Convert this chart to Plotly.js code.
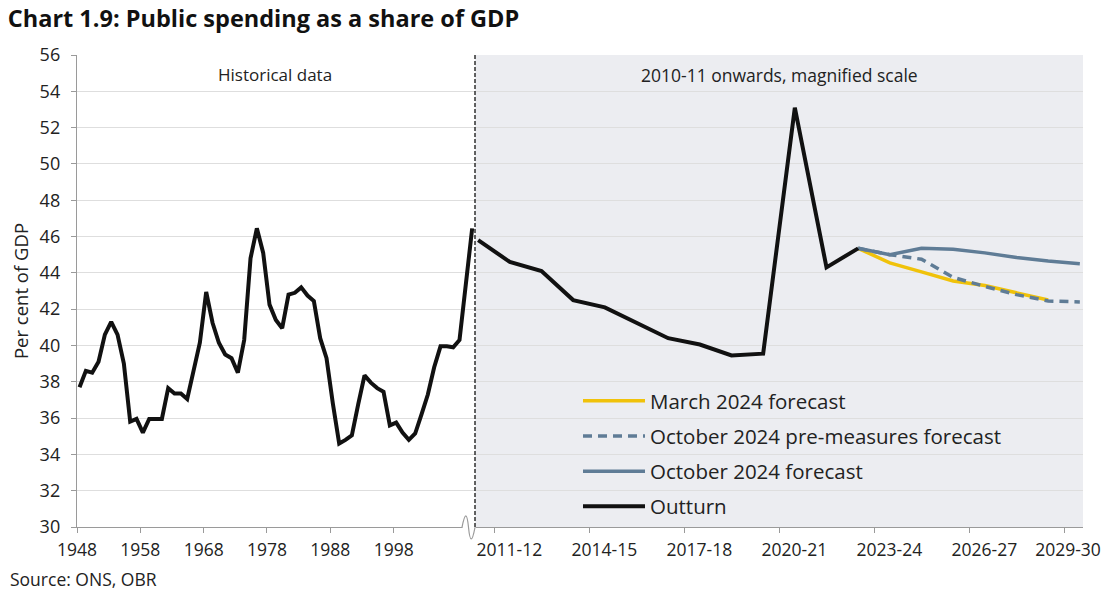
<!DOCTYPE html>
<html><head><meta charset="utf-8">
<script src="https://cdn.plot.ly/plotly-3.0.1.min.js"></script>
<style>html,body{margin:0;padding:0;background:#fff}#chart{width:1111px;height:596px}</style>
</head><body><div id="chart"></div>
<script>
// Historical series (calendar/fiscal year start), per cent of GDP
const histYears = [1948,1949,1950,1951,1952,1953,1954,1955,1956,1957,1958,1959,1960,1961,1962,1963,1964,1965,1966,1967,1968,1969,1970,1971,1972,1973,1974,1975,1976,1977,1978,1979,1980,1981,1982,1983,1984,1985,1986,1987,1988,1989,1990,1991,1992,1993,1994,1995,1996,1997,1998,1999,2000,2001,2002,2003,2004,2005,2006,2007,2008,2009,2010];
const histValues = [37.7,38.6,38.5,39.1,40.6,41.3,40.6,39.0,35.8,35.95,35.2,35.95,35.95,35.95,37.65,37.35,37.35,37.05,38.6,40.15,42.95,41.25,40.15,39.5,39.3,38.5,40.3,44.8,46.45,45.1,42.25,41.4,40.95,42.8,42.9,43.2,42.75,42.45,40.4,39.3,36.8,34.6,34.8,35.05,36.75,38.35,37.95,37.65,37.45,35.6,35.75,35.2,34.8,35.15,36.2,37.3,38.8,39.95,39.95,39.9,40.3,43.4,46.45];
const histTickLabels = ['1948','1958','1968','1978','1988','1998'];

// Magnified section: fiscal years
const fyLabels = ['2010-11','2011-12','2012-13','2013-14','2014-15','2015-16','2016-17','2017-18','2018-19','2019-20','2020-21','2021-22','2022-23','2023-24','2024-25','2025-26','2026-27','2027-28','2028-29','2029-30'];
const fyTickLabels = ['2011-12','2014-15','2017-18','2020-21','2023-24','2026-27','2029-30'];

const outturnYears = ['2010-11','2011-12','2012-13','2013-14','2014-15','2015-16','2016-17','2017-18','2018-19','2019-20','2020-21','2021-22','2022-23'];
const outturnValues = [45.8,44.6,44.1,42.5,42.1,41.25,40.4,40.05,39.45,39.55,53.1,44.3,45.35];

const march24Years = ['2022-23','2023-24','2024-25','2025-26','2026-27','2027-28','2028-29'];
const march24Values = [45.35,44.55,44.05,43.55,43.3,42.9,42.5];

const octPreYears = ['2022-23','2023-24','2024-25','2025-26','2026-27','2027-28','2028-29','2029-30'];
const octPreValues = [45.35,45.0,44.75,43.75,43.25,42.8,42.45,42.4];

const octYears = ['2022-23','2023-24','2024-25','2025-26','2026-27','2027-28','2028-29','2029-30'];
const octValues = [45.35,45.0,45.35,45.3,45.1,44.85,44.65,44.5];

const idx = arr => arr.map(l => fyLabels.indexOf(l));

const FONT = '"Open Sans", Lato, sans-serif';
const TXT = '#222';
const AX = '#9a9a9a';
const GRID = '#dedede';
const YELLOW = '#f0c20a';
const BLUEGREY = '#5f7c96';

// plot area geometry (pixels)
const L = 77, R = 28, T = 55, B = 69;
const W = 1111 - L - R, H = 596 - T - B;
const split = (475 - L) / W;
const px = p => (p - L) / W;
const py = p => (596 - B - p) / H;

// labels sit to the right of their tick (category centre); the last one is pulled inside the chart
const NB = '\u00a0';
const fyTickText = fyTickLabels.map((l, i) => i === fyTickLabels.length - 1 ? l : NB.repeat(5) + l);

const traces = [
  {x: idx(march24Years), y: march24Values, xaxis:'x2', yaxis:'y', mode:'lines', name:'March 2024 forecast',
   legendgroup:'g1', line:{color:YELLOW, width:3.5}},
  {x: idx(octPreYears), y: octPreValues, xaxis:'x2', yaxis:'y', mode:'lines', name:'October 2024 pre-measures forecast',
   legendgroup:'g2', line:{color:BLUEGREY, width:3.5, dash:'9px,6px'}},
  {x: idx(octYears), y: octValues, xaxis:'x2', yaxis:'y', mode:'lines', name:'October 2024 forecast',
   legendgroup:'g3', line:{color:BLUEGREY, width:3.5}},
  {x: histYears, y: histValues, xaxis:'x', yaxis:'y', mode:'lines', name:'Outturn', showlegend:false,
   legendgroup:'g4', line:{color:'#111', width:4}},
  {x: idx(outturnYears), y: outturnValues, xaxis:'x2', yaxis:'y', mode:'lines', name:'Outturn',
   legendgroup:'g4', line:{color:'#111', width:4}}
];

const layout = {
  width:1111, height:596,
  margin:{l:L, r:R, t:T, b:B},
  paper_bgcolor:'#fff', plot_bgcolor:'rgba(0,0,0,0)',
  font:{family:FONT, color:TXT, size:16},
  title:{text:'<b>Chart 1.9: Public spending as a share of GDP</b>', x:0.007, xanchor:'left',
         yref:'container', y:0.968, yanchor:'middle', font:{family:FONT, size:23.5, color:'#111'}},
  showlegend:true,
  legend:{x:px(578), y:py(381), xanchor:'left', yanchor:'top', bgcolor:'rgba(0,0,0,0)',
          font:{family:FONT, size:20.5, color:TXT}, itemwidth:62, tracegroupgap:5.5, traceorder:'grouped'},
  xaxis:{domain:[0, split], range:[1947.6, 1947.6 + (475 - L) / 6.333], anchor:'y',
         tickmode:'array', tickvals: histTickLabels.map(v => +v - 0.4), ticktext: histTickLabels,
         ticks:'outside', ticklen:5, tickcolor:AX, showline:true, linecolor:AX, linewidth:1.2,
         ticklabelstandoff:2,
         showgrid:false, zeroline:false, tickfont:{size:17.5, color:TXT}},
  xaxis2:{domain:[split, 1], range:[-0.1, 19.1], anchor:'y',
          tickmode:'array', tickvals: fyTickLabels.map(l => fyLabels.indexOf(l) - 0.5), ticktext: fyTickText,
          ticklabelshift:4, ticklabeloverflow:'allow', ticklabelstandoff:2,
          ticks:'outside', ticklen:5, tickcolor:AX, showline:true, linecolor:AX, linewidth:1.2,
          showgrid:false, zeroline:false, tickfont:{size:17.5, color:TXT}},
  yaxis:{range:[30,56], dtick:2, tick0:30, anchor:'x',
         ticks:'outside', ticklen:5, tickcolor:AX, showline:true, linecolor:AX, linewidth:1.2,
         ticklabelstandoff:7,
         gridcolor:GRID, gridwidth:1, zeroline:false, tickfont:{size:18, color:TXT},
         title:{text:'Per cent of GDP', font:{size:18.5, color:TXT}, standoff:6}},
  shapes:[
    {type:'rect', xref:'paper', yref:'paper', x0:split, x1:1, y0:0, y1:1, fillcolor:'#ecedf1', line:{width:0}, layer:'below'},
    {type:'line', xref:'paper', yref:'paper', x0:px(462.5), x1:px(475.5), y0:0, y1:0, line:{color:'#fff', width:3}, layer:'above'},
    {type:'path', xref:'paper', yref:'paper', layer:'above',
     path:`M${px(462)},${py(527.3)} C${px(465)},${py(512)} ${px(467)},${py(512)} ${px(468.5)},${py(527.3)} S${px(472)},${py(543)} ${px(475)},${py(527.3)}`,
     line:{color:AX, width:1.2}},
    {type:'line', xref:'paper', yref:'paper', x0:split, x1:split, y0:0, y1:1, line:{color:'#111', width:1.3, dash:'4px,2px'}, layer:'above'}
  ],
  annotations:[
    {text:'Historical data', xref:'paper', yref:'paper', x:px(275), y:py(74), xanchor:'center', yanchor:'middle',
     showarrow:false, font:{size:17, color:TXT}},
    {text:'2010-11 onwards, magnified scale', xref:'paper', yref:'paper', x:px(779), y:py(75), xanchor:'center', yanchor:'middle',
     showarrow:false, font:{size:17.5, color:TXT}},
    {text:'Source: ONS, OBR', xref:'paper', yref:'paper', x:px(8), y:py(579), xanchor:'left', yanchor:'middle',
     showarrow:false, font:{size:17.5, color:TXT}}
  ]
};

Plotly.newPlot('chart', traces, layout, {displayModeBar:false, staticPlot:true});
</script>
</body></html>
